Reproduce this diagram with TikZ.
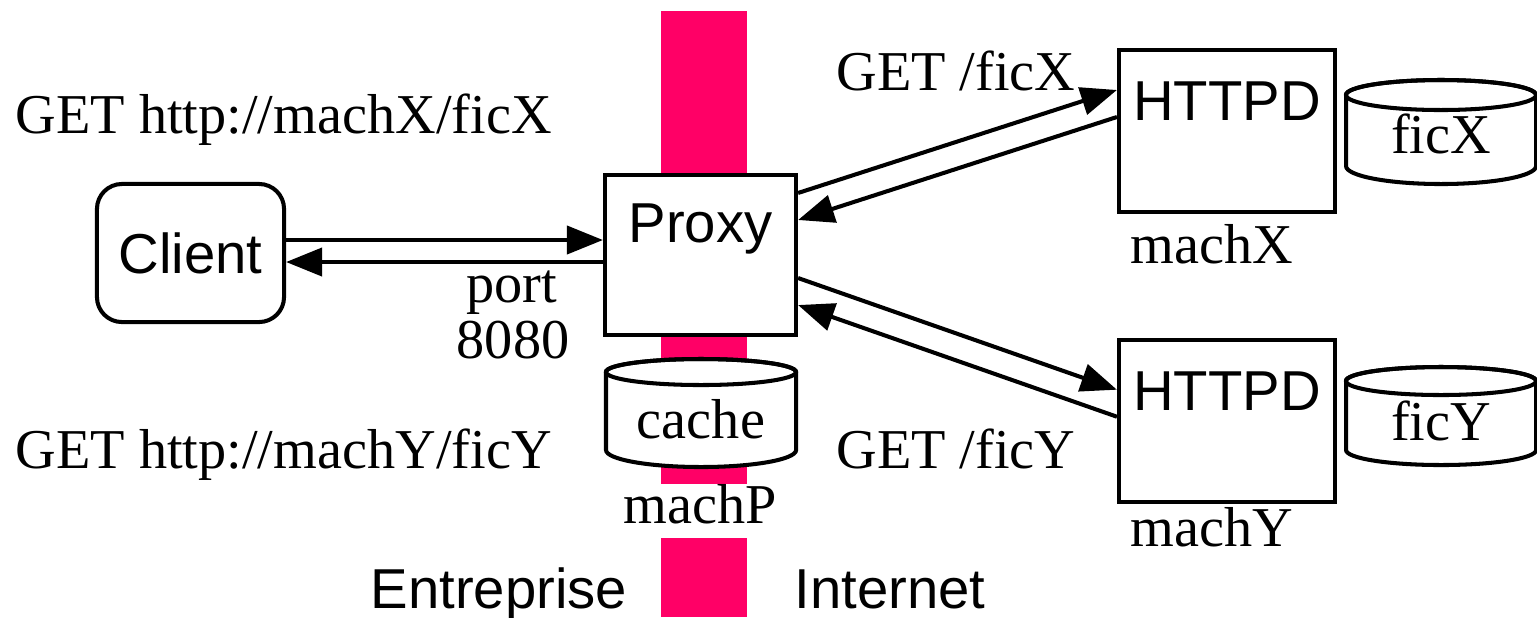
\documentclass[tikz,border=0pt]{standalone}
\usepackage{fontspec}
\setmainfont{Liberation Serif}
\setsansfont{Liberation Sans}
\usetikzlibrary{positioning,arrows.meta}

\definecolor{wall}{RGB}{255,0,102}

\tikzset{
  big/.style = {font=\fontsize{16}{19}\selectfont, inner sep=0pt},
  bigsf/.style = {font=\sffamily\fontsize{16}{19}\selectfont, inner sep=0pt},
  host/.style = {draw, line width=1.15pt, fill=white, inner sep=0pt},
  req/.style = {line width=1.15pt, -{Triangle[length=0.36cm,width=0.28cm]}},
}

\begin{document}
\begin{tikzpicture}[x=0.01cm, y=-0.01cm]
  \useasboundingbox (0,0) rectangle (1537,617);

  % firewall
  \fill[wall] (661,11) rectangle (747,617);

  \node[host, rounded corners=0.25cm, minimum width=1.87cm, minimum height=1.38cm, bigsf] (client) at (190.5,253) {Client};
  \node[host, minimum width=1.91cm, minimum height=1.60cm] (proxy) at (700.5,255) {};
  \node[host, minimum width=2.16cm, minimum height=1.62cm] (httpdx) at (1227,131) {};
  \node[host, minimum width=2.16cm, minimum height=1.62cm, below = 1.24cm of httpdx] (httpdy) {};

  \node[bigsf, below = 0.30cm of proxy.north] (lproxy) {Proxy};
  \node[bigsf, below = 0.33cm of httpdx.north] (lhttpdx) {HTTPD};
  \node[bigsf, below = 0.33cm of httpdy.north] (lhttpdy) {HTTPD};

  % disks
  \foreach \cx/\ty/\tr/\by/\br/\base/\nm in {701/372/0.13/450/0.17/438/cache,
      1441/95/0.15/166/0.18/153/ficX, 1441/381/0.14/450/0.15/440/ficY} {
    \filldraw[line width=1.15pt, fill=white] (\cx-95,\ty) -- (\cx-95,\by)
      arc[start angle=180, end angle=360, x radius=0.95cm, y radius=\br cm]
      -- (\cx+95,\ty)
      arc[start angle=0, end angle=180, x radius=0.95cm, y radius=\tr cm];
    \draw[line width=1.15pt] (\cx,\ty) ellipse[x radius=0.95cm, y radius=\tr cm];
    \node[big, anchor=base] (\nm) at (\cx,\base) {\nm};
  }

  \node[big, anchor=base, fill=white, text depth=0.15cm] (machp) at (700,523) {machP};
  \node[big, anchor=base] (machx) at (1212,263) {machX};
  \node[big, anchor=base] (machy) at (1212,546) {machY};

  \node[big, anchor=base west] (getx) at (15,133) {GET http://machX/ficX};
  \node[big, anchor=base west] (gety) at (15,468) {GET http://machY/ficY};
  \node[big, anchor=base] (port) at (512,302) {port};
  \node[big, anchor=base] (portnum) at (513,358) {8080};
  \node[big, anchor=base] (getficx) at (956,90) {GET /ficX};
  \node[big, anchor=base] (getficy) at (956,468) {GET /ficY};

  \node[bigsf, anchor=base] (inside) at (499,608) {Entreprise};
  \node[bigsf, anchor=base] (outside) at (890,608) {Internet};

  \draw[req] ([yshift=0.13cm]client.east) -- ([yshift=0.13cm]client.east -| proxy.west);
  \draw[req] ([yshift=-0.07cm]proxy.west) -- ([yshift=-0.07cm]proxy.west -| client.east);
  \draw[req] ([yshift=0.62cm]proxy.east) -- ([yshift=0.41cm]httpdx.west);
  \draw[req] ([yshift=0.14cm]httpdx.west) -- ([yshift=0.35cm]proxy.east);
  \draw[req] ([yshift=-0.23cm]proxy.east) -- ([yshift=0.315cm]httpdy.west);
  \draw[req] ([yshift=0.045cm]httpdy.west) -- ([yshift=-0.50cm]proxy.east);
\end{tikzpicture}
\end{document}
